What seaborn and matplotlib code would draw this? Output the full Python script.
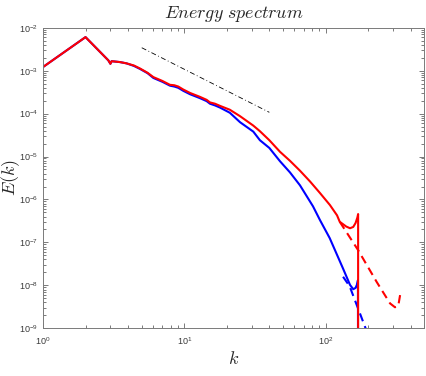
import numpy as np
import pandas as pd
import matplotlib
matplotlib.use("Agg")
import matplotlib.pyplot as plt
import seaborn as sns
from matplotlib.ticker import LogLocator, NullFormatter

sns.set_style("ticks")
plt.rcParams['font.family'] = ['Liberation Sans', 'DejaVu Sans']
plt.rcParams['mathtext.fontset'] = 'custom'
plt.rcParams['mathtext.rm'] = 'Liberation Sans'
plt.rcParams['mathtext.it'] = 'Liberation Sans:italic'

# wavenumbers / log10(E)
k_red = [1, 2, 2.9, 3.0, 3.06, 3.5, 3.9, 4.4, 4.86, 5.5, 6.04, 7.0, 7.92, 8.5, 9.07, 9.84,
         11, 12.9, 14.4, 15.2, 16.5, 17.9, 21, 24.8, 30.8, 34.3, 40, 47.6, 56, 65.9, 77.6,
         91.3, 107.4, 120.6, 126, 140, 149, 157, 163, 168, 170, 170]
logE_red = [-2.916, -2.219, -2.76, -2.84, -2.78, -2.80, -2.83, -2.88, -2.95, -3.05, -3.15,
            -3.24, -3.33, -3.34, -3.37, -3.44, -3.52, -3.61, -3.68, -3.74, -3.77, -3.82,
            -3.91, -4.06, -4.28, -4.41, -4.62, -4.89, -5.10, -5.33, -5.58, -5.85, -6.13,
            -6.37, -6.52, -6.63, -6.67, -6.64, -6.55, -6.42, -6.34, -12]

k_blue = [1, 2, 2.9, 3.0, 3.06, 3.5, 3.9, 4.4, 4.86, 5.5, 6.04, 7.0, 7.92, 8.5, 9.07, 9.84,
          11, 12.9, 14.4, 15.2, 16.5, 17.9, 21, 24.8, 30.8, 34.3, 40, 47.6, 56, 65.9, 81.5,
          91.3, 107, 132.6, 149, 157, 163, 167, 169.5, 170]
logE_blue = [-2.916, -2.219, -2.76, -2.84, -2.78, -2.80, -2.83, -2.89, -2.96, -3.06, -3.17,
             -3.26, -3.35, -3.37, -3.40, -3.47, -3.55, -3.64, -3.71, -3.77, -3.81, -3.86,
             -3.98, -4.20, -4.42, -4.62, -4.80, -5.11, -5.37, -5.67, -6.16, -6.48, -6.90,
             -7.60, -7.99, -8.09, -8.06, -7.98, -7.88, -12]

k_red_dash = [126, 170, 230, 286, 310, 327, 340]
logE_red_dash = [-6.52, -7.18, -7.92, -8.42, -8.51, -8.48, -8.15]

k_blue_dash = [133, 148, 192, 210]
logE_blue_dash = [-7.80, -8.02, -9.0, -9.33]

k_ref = [5, 40]          # k^(-5/3) reference
E_ref = [3.42e-3, 1.07e-4]


def frame(k, logE):
    return pd.DataFrame({"k": k, "E": 10.0 ** np.array(logE)})


fig = plt.figure(figsize=(4.27, 3.76), dpi=100)
ax = fig.add_axes([0.1007, 0.1269, 0.893, 0.7994])

sns.lineplot(data=frame(k_blue_dash, logE_blue_dash), x="k", y="E", ax=ax, sort=False,
             estimator=None, color="blue", lw=1.5, dashes=(4, 2.5))
sns.lineplot(data=frame(k_red_dash, logE_red_dash), x="k", y="E", ax=ax, sort=False,
             estimator=None, color="red", lw=1.5, dashes=(4, 2.5))
sns.lineplot(data=frame(k_blue, logE_blue), x="k", y="E", ax=ax, sort=False,
             estimator=None, color="blue", lw=1.5)
sns.lineplot(data=frame(k_red, logE_red), x="k", y="E", ax=ax, sort=False,
             estimator=None, color="red", lw=1.5)
sns.lineplot(x=k_ref, y=E_ref, ax=ax, color="black", lw=0.6, dashes=(6, 3, 1, 3))

ax.set_xscale("log")
ax.set_yscale("log")
ax.set_xlim(1, 500)
ax.set_ylim(1e-9, 1e-2)

ax.yaxis.set_major_locator(LogLocator(base=10, numticks=20))
ax.yaxis.set_minor_locator(LogLocator(base=10, subs=np.arange(2, 10), numticks=100))
ax.yaxis.set_minor_formatter(NullFormatter())
ax.xaxis.set_minor_locator(LogLocator(base=10, subs=np.arange(2, 10), numticks=100))
ax.xaxis.set_minor_formatter(NullFormatter())

axc = "#7a7a7a"
for s in ax.spines.values():
    s.set_color(axc)
    s.set_linewidth(0.7)
ax.tick_params(which="both", direction="in", top=True, right=True, color=axc,
               labelcolor="#3a3a3a", labelsize=6.5, width=0.7)
ax.tick_params(which="major", length=3.4)
ax.tick_params(which="minor", length=2.2)
ax.tick_params(axis="x", which="major", pad=5)

ax.set_title(r"$Energy\ spectrum$", math_fontfamily="cm", fontsize=13, pad=7)
ax.set_xlabel(r"$k$", math_fontfamily="cm", fontsize=13)
ax.set_ylabel(r"$E(k)$", math_fontfamily="cm", fontsize=13)
ax.xaxis.set_label_coords(0.5, -0.075)
ax.yaxis.set_label_coords(-0.054, 0.5)

plt.savefig("out.png", dpi=100)
